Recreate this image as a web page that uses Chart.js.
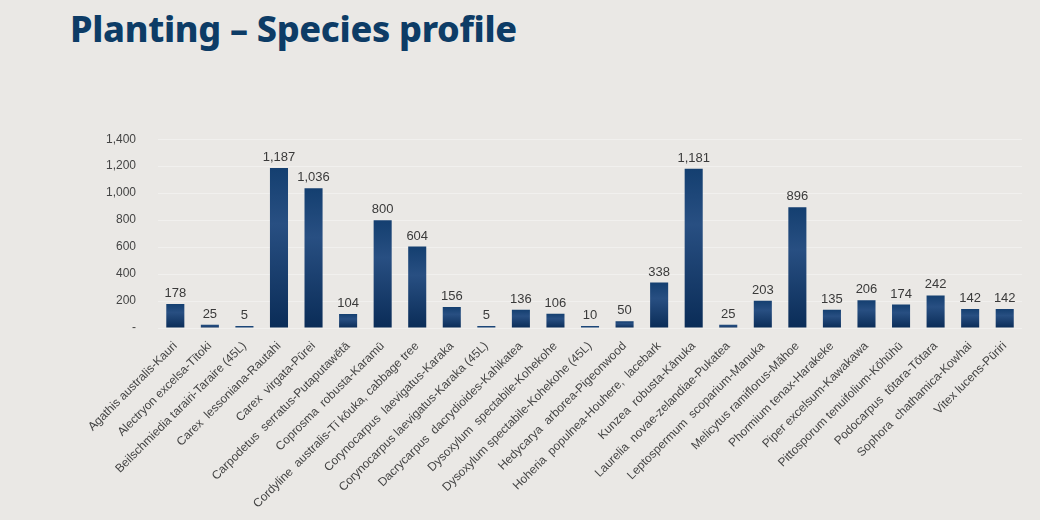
<!DOCTYPE html>
<html>
<head>
<meta charset="utf-8">
<script src="https://cdn.jsdelivr.net/npm/chart.js@4.4.1/dist/chart.umd.min.js"></script>
<style>
    html, body { margin: 0; padding: 0; background: #eae8e5; }
    body { width: 1040px; height: 520px; position: relative; overflow: hidden; }
    h1 {
        position: absolute; left: 70px; top: 4px; margin: 0;
        font-family: "Noto Sans", sans-serif; font-weight: 800; font-size: 36px;
        color: #0d3c66; letter-spacing: -0.3px;
    }
    #wrap { position: absolute; left: 84px; top: 110px; width: 952px; height: 404px; }
</style>
</head>
<body>
<h1>Planting – Species profile</h1>
<div id="wrap"><canvas id="speciesChart"></canvas></div>
<script>
// species and counts
const species = [
    'Agathis australis-Kauri',
    'Alectryon excelsa-Tītoki',
    'Beilschmiedia tarairi-Taraire (45L)',
    'Carex  lessoniana-Rautahi',
    'Carex  virgata-Pūrei',
    'Carpodetus  serratus-Putaputawētā',
    'Coprosma  robusta-Karamū',
    'Cordyline  australis-Tī kōuka, cabbage tree',
    'Corynocarpus  laevigatus-Karaka',
    'Corynocarpus laevigatus-Karaka (45L)',
    'Dacrycarpus  dacrydioides-Kahikatea',
    'Dysoxylum  spectabile-Kohekohe',
    'Dysoxylum spectabile-Kohekohe (45L)',
    'Hedycarya  arborea-Pigeonwood',
    'Hoheria  populnea-Houhere,  lacebark',
    'Kunzea  robusta-Kānuka',
    'Laurelia  novae-zelandiae-Pukatea',
    'Leptospermum  scoparium-Manuka',
    'Melicytus ramiflorus-Māhoe',
    'Phormium tenax-Harakeke',
    'Piper excelsum-Kawakawa',
    'Pittosporum tenuifolium-Kōhūhū',
    'Podocarpus  tōtara-Tōtara',
    'Sophora  chathamica-Kowhai',
    'Vitex lucens-Pūriri'
];
const counts = [178, 25, 5, 1187, 1036, 104, 800, 604, 156, 5, 136, 106, 10, 50, 338,
    1181, 25, 203, 896, 135, 206, 174, 242, 142, 142];
const yTicks = [0, 200, 400, 600, 800, 1000, 1200, 1400];

function fmt(v) {
    return v === 0 ? '-' : v.toLocaleString('en-US');
}

// value labels above each bar
const valueLabels = {
    id: 'valueLabels',
    afterDatasetsDraw(chart) {
        const ctx = chart.ctx;
        ctx.save();
        ctx.font = '13px "Liberation Sans", Arial, sans-serif';
        ctx.fillStyle = '#3a3a3a';
        ctx.textAlign = 'center';
        ctx.textBaseline = 'bottom';
        chart.getDatasetMeta(0).data.forEach((bar, i) => {
            ctx.fillText(fmt(counts[i]), bar.x, bar.y - 4);
        });
        ctx.restore();
    }
};

const speciesChart = new Chart(document.getElementById('speciesChart'), {
    type: 'bar',
    data: {
        labels: species,
        datasets: [{
            data: counts,
            backgroundColor: (c) => {
                const chart = c.chart;
                const ys = chart.scales.y;
                if (!ys || c.raw === undefined) return '#123d6e';
                const top = ys.getPixelForValue(c.raw);
                const base = ys.getPixelForValue(0);
                if (!isFinite(top) || base - top < 3) return '#1c4678';
                const g = chart.ctx.createLinearGradient(0, top, 0, base);
                g.addColorStop(0, '#143f70');
                g.addColorStop(0.35, '#284f82');
                g.addColorStop(1, '#0a2c57');
                return g;
            },
            minBarLength: 2,
            barPercentage: 0.95,
            categoryPercentage: 0.55
        }]
    },
    options: {
        responsive: true,
        maintainAspectRatio: false,
        animation: false,
        layout: { padding: { top: 8, right: 14 } },
        plugins: {
            legend: { display: false },
            tooltip: { enabled: false }
        },
        scales: {
            x: {
                grid: { display: false },
                border: { display: false },
                ticks: {
                    autoSkip: false,
                    maxRotation: 45,
                    minRotation: 45,
                    color: '#444',
                    font: { family: '"Liberation Sans", Arial, sans-serif', size: 12 }
                }
            },
            y: {
                min: 0,
                max: 1400,
                afterBuildTicks: (axis) => {
                    axis.ticks = yTicks.map(v => ({ value: v }));
                },
                grid: { color: 'rgba(255,255,255,0.35)', drawTicks: false },
                border: { display: false },
                ticks: {
                    padding: 22,
                    color: '#444',
                    font: { family: '"Liberation Sans", Arial, sans-serif', size: 12 },
                    callback: (v) => fmt(v)
                }
            }
        }
    },
    plugins: [valueLabels]
});
</script>
</body>
</html>
